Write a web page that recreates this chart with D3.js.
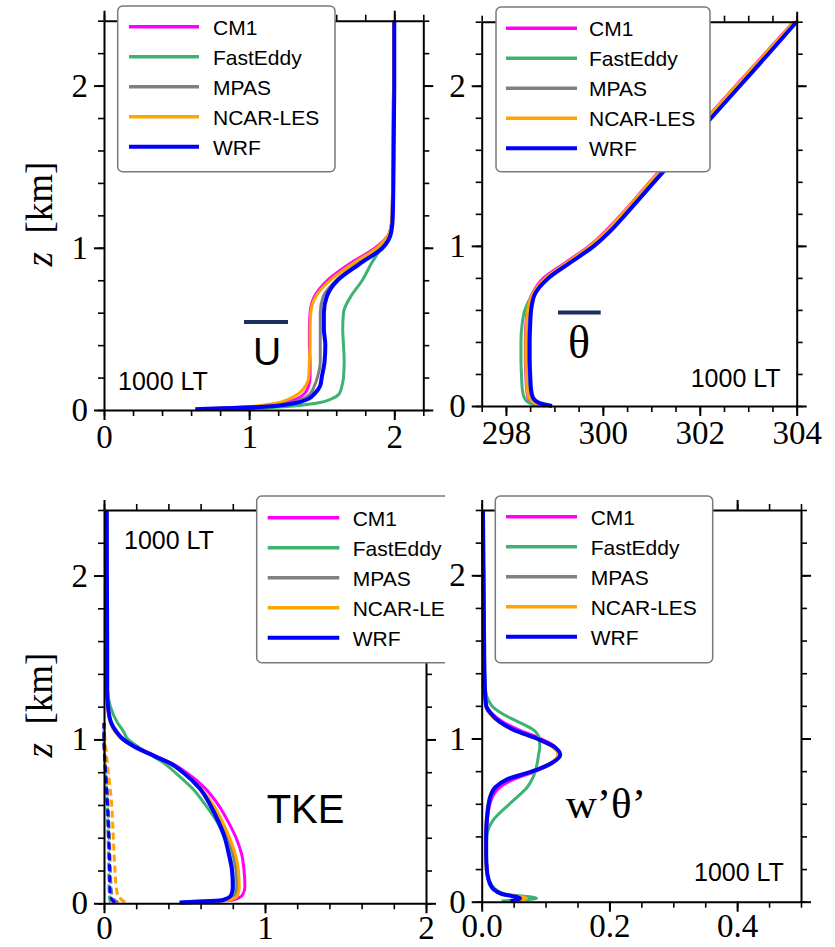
<!DOCTYPE html>
<html>
<head>
<meta charset="utf-8">
<script src="https://cdn.jsdelivr.net/npm/d3@7"></script>
<style>
  body { margin: 0; background: #fff; }
  svg { display: block; }
</style>
</head>
<body>
<svg id="chart" width="835" height="947"></svg>
<script>
const models = ["CM1", "FastEddy", "MPAS", "NCAR-LES", "WRF"];
const colors = ["#ff00ff", "#3cb371", "#808080", "#ffa500", "#0000ff"];

// mean wind speed U (top left)
const zU = [0.005, 0.02, 0.04, 0.07, 0.1, 0.15, 0.2, 0.3, 0.4, 0.5, 0.6, 0.7, 0.8, 0.9, 1.0, 1.1, 1.2, 1.5, 2.0, 2.4];
const uCM1 = [0.63, 1.02, 1.22, 1.33, 1.38, 1.41, 1.42, 1.42, 1.415, 1.415, 1.42, 1.45, 1.54, 1.69, 1.87, 1.97, 1.985, 1.99, 1.995, 1.995];
const uFastEddy = [0.95, 1.24, 1.45, 1.57, 1.62, 1.64, 1.65, 1.655, 1.65, 1.645, 1.65, 1.70, 1.78, 1.84, 1.91, 1.97, 1.985, 1.99, 1.995, 1.995];
const uMPAS = [0.63, 1.05, 1.26, 1.37, 1.42, 1.45, 1.47, 1.49, 1.49, 1.49, 1.49, 1.51, 1.60, 1.74, 1.89, 1.975, 1.985, 1.99, 1.995, 1.995];
const uNCAR = [0.63, 0.98, 1.17, 1.28, 1.34, 1.39, 1.41, 1.415, 1.42, 1.42, 1.425, 1.46, 1.56, 1.71, 1.88, 1.97, 1.985, 1.99, 1.995, 1.995];
const uWRF = [0.63, 1.10, 1.30, 1.41, 1.45, 1.49, 1.50, 1.52, 1.525, 1.515, 1.515, 1.535, 1.61, 1.76, 1.92, 1.98, 1.99, 1.995, 2.0, 2.0];

// potential temperature (top right)
const zT = [0.0, 0.02, 0.05, 0.1, 0.2, 0.3, 0.4, 0.5, 0.6, 0.7, 0.8, 0.9, 1.0, 1.1, 1.2, 1.4, 1.6, 1.8, 2.0, 2.2, 2.4];
const tCM1 = [298.8, 298.56, 298.46, 298.43, 298.41, 298.4, 298.4, 298.41, 298.44, 298.54, 298.78, 299.25, 299.72, 300.08, 300.39, 300.97, 301.56, 302.15, 302.74, 303.34, 303.94];
const tFastEddy = [298.7, 298.48, 298.38, 298.34, 298.32, 298.31, 298.31, 298.33, 298.39, 298.56, 298.86, 299.3, 299.76, 300.12, 300.42, 301.0, 301.59, 302.18, 302.77, 303.37, 303.96];
const tMPAS = [298.85, 298.6, 298.5, 298.47, 298.45, 298.44, 298.44, 298.45, 298.48, 298.57, 298.84, 299.3, 299.77, 300.13, 300.44, 301.02, 301.61, 302.2, 302.79, 303.38, 303.97];
const tNCAR = [298.8, 298.58, 298.48, 298.44, 298.42, 298.41, 298.41, 298.42, 298.45, 298.55, 298.82, 299.28, 299.74, 300.1, 300.4, 300.98, 301.57, 302.16, 302.75, 303.35, 303.95];
const tWRF = [298.95, 298.68, 298.56, 298.52, 298.5, 298.49, 298.49, 298.5, 298.52, 298.6, 298.88, 299.35, 299.82, 300.18, 300.48, 301.06, 301.65, 302.24, 302.83, 303.42, 304.0];

// resolved TKE (bottom left, solid)
const zK = [0.005, 0.02, 0.05, 0.1, 0.2, 0.3, 0.4, 0.5, 0.6, 0.7, 0.8, 0.85, 0.9, 0.95, 1.0, 1.05, 1.1, 1.2, 1.3, 1.5, 2.0, 2.4];
const kCM1 = [0.47, 0.80, 0.86, 0.875, 0.87, 0.855, 0.82, 0.77, 0.71, 0.63, 0.51, 0.43, 0.32, 0.21, 0.12, 0.075, 0.045, 0.025, 0.02, 0.02, 0.018, 0.017];
const kFastEddy = [0.6, 0.76, 0.80, 0.805, 0.80, 0.78, 0.75, 0.70, 0.63, 0.55, 0.44, 0.38, 0.30, 0.22, 0.15, 0.12, 0.085, 0.04, 0.022, 0.02, 0.018, 0.017];
const kMPAS = [0.47, 0.77, 0.815, 0.825, 0.82, 0.80, 0.77, 0.725, 0.67, 0.60, 0.49, 0.415, 0.315, 0.205, 0.115, 0.07, 0.045, 0.025, 0.02, 0.02, 0.018, 0.017];
const kNCAR = [0.47, 0.78, 0.83, 0.84, 0.835, 0.815, 0.78, 0.735, 0.68, 0.60, 0.49, 0.41, 0.31, 0.20, 0.11, 0.065, 0.04, 0.022, 0.02, 0.02, 0.018, 0.017];
const kWRF = [0.47, 0.74, 0.79, 0.80, 0.795, 0.775, 0.75, 0.71, 0.66, 0.595, 0.49, 0.42, 0.31, 0.20, 0.12, 0.075, 0.045, 0.025, 0.02, 0.02, 0.018, 0.017];

// subgrid TKE (bottom left, dashed)
const zS = [0.005, 0.03, 0.075, 0.2, 0.4, 0.6, 0.8, 0.9, 1.0, 1.1];
const sCM1 = [0.06, 0.04, 0.035, 0.033, 0.028, 0.02, 0.009, 0.003, 0.0, 0.0];
const sFastEddy = [0.04, 0.035, 0.032, 0.03, 0.026, 0.02, 0.01, 0.004, 0.0, 0.0];
const sMPAS = [0.09, 0.055, 0.046, 0.04, 0.034, 0.026, 0.013, 0.006, 0.001, 0.0];
const sNCAR = [0.13, 0.10, 0.079, 0.068, 0.058, 0.048, 0.027, 0.016, 0.006, 0.0];
const sWRF = [0.07, 0.045, 0.037, 0.035, 0.03, 0.022, 0.01, 0.004, 0.0, 0.0];

// heat flux w'theta' (bottom right)
const zW = [0.005, 0.02, 0.05, 0.1, 0.2, 0.3, 0.4, 0.5, 0.6, 0.65, 0.7, 0.75, 0.8, 0.85, 0.9, 0.95, 1.0, 1.05, 1.1, 1.15, 1.2, 1.3, 1.5, 2.0, 2.4];
const wCM1 = [0.045, 0.058, 0.03, 0.014, 0.008, 0.007, 0.007, 0.009, 0.013, 0.018, 0.028, 0.05, 0.085, 0.11, 0.12, 0.115, 0.092, 0.06, 0.034, 0.017, 0.008, 0.005, 0.004, 0.003, 0.002];
const wFastEddy = [0.031, 0.086, 0.034, 0.016, 0.008, 0.007, 0.008, 0.018, 0.044, 0.058, 0.071, 0.079, 0.084, 0.087, 0.089, 0.091, 0.09, 0.082, 0.058, 0.033, 0.016, 0.006, 0.004, 0.003, 0.002];
const wMPAS = [0.045, 0.06, 0.03, 0.014, 0.008, 0.007, 0.007, 0.008, 0.011, 0.015, 0.022, 0.041, 0.08, 0.108, 0.121, 0.112, 0.085, 0.052, 0.028, 0.014, 0.007, 0.005, 0.004, 0.003, 0.002];
const wNCAR = [0.05, 0.07, 0.032, 0.014, 0.007, 0.006, 0.006, 0.007, 0.01, 0.013, 0.02, 0.038, 0.078, 0.108, 0.12, 0.11, 0.083, 0.05, 0.027, 0.013, 0.006, 0.004, 0.003, 0.002, 0.002];
const wWRF = [0.045, 0.06, 0.03, 0.014, 0.008, 0.007, 0.007, 0.008, 0.011, 0.014, 0.021, 0.04, 0.08, 0.11, 0.123, 0.113, 0.086, 0.052, 0.029, 0.015, 0.007, 0.005, 0.004, 0.003, 0.002];

const zMajor = [0, 1, 2];
const serif = "'Liberation Serif', 'Times New Roman', serif";
const sans = "'Liberation Sans', Arial, sans-serif";

const svg = d3.select("#chart");

svg.append("defs").append("clipPath").attr("id", "clipBL")
  .append("rect").attr("x", 0).attr("y", 460).attr("width", 445).attr("height", 487);

function drawPanel(p) {
  const [left, right, top, bottom] = p.box;
  const x = d3.scaleLinear().domain(p.xDomain).range([left, right]);
  const y = d3.scaleLinear().domain([0, 2.4]).range([bottom, top]);
  const g = svg.append("g");

  const line = d3.line()
    .x(d => x(d[0]))
    .y(d => y(d[1]))
    .curve(d3.curveMonotoneY);

  // dashed subgrid profiles first
  (p.dashed || []).forEach((vals, i) => {
    g.append("path")
      .datum(vals.map((v, j) => [v, p.zDashed[j]]))
      .attr("d", line)
      .attr("fill", "none")
      .attr("stroke", colors[i])
      .attr("stroke-width", 3)
      .attr("stroke-dasharray", "7,4");
  });

  p.series.forEach((vals, i) => {
    g.append("path")
      .datum(vals.map((v, j) => [v, p.z[j]]))
      .attr("d", line)
      .attr("fill", "none")
      .attr("stroke", colors[i])
      .attr("stroke-width", models[i] === "WRF" ? 4 : 3)
      .attr("stroke-linejoin", "round");
  });

  // axes: minor + major ticks on all four sides, all pointing outward
  const xMinor = d3.range(p.xDomain[0], p.xDomain[1] + 1e-9, p.xMinorStep);
  const zMinor = d3.range(0, 2.4 + 1e-9, 0.2);

  const axes = [
    [d3.axisBottom(x), `translate(0,${bottom})`, xMinor, p.xMajor, true],
    [d3.axisTop(x), `translate(0,${top})`, xMinor, p.xMajor, false],
    [d3.axisLeft(y), `translate(${left},0)`, zMinor, zMajor, true],
    [d3.axisRight(y), `translate(${right},0)`, zMinor, zMajor, false]
  ];
  axes.forEach(([ax, tr, minor, major, labels], k) => {
    g.append("g").attr("transform", tr)
      .call(ax.tickValues(minor).tickSize(6).tickSizeOuter(0).tickFormat(""))
      .call(s => s.select(".domain").remove())
      .selectAll("line").attr("stroke-width", 1.6);
    const isX = k < 2;
    const fmt = isX ? p.fmt : d3.format("d");
    const a = g.append("g").attr("transform", tr)
      .call(ax.tickValues(major).tickSize(10).tickSizeOuter(0)
        .tickPadding(isX ? p.xPad : 6)
        .tickFormat(labels ? fmt : ""))
      .attr("font-family", serif)
      .attr("font-size", 33);
    a.select(".domain").attr("stroke-width", 2);
    a.selectAll("line").attr("stroke-width", 2);
    a.selectAll("text")
      .style("font-family", serif)
      .style("font-size", "33px")
      .attr("fill", "#000");
  });

  // legend
  const L = p.legend;
  const lg = svg.append("g");
  if (L.clip) lg.attr("clip-path", "url(#clipBL)");
  lg.append("rect")
    .attr("x", L.x).attr("y", L.y).attr("width", L.w).attr("height", L.h)
    .attr("rx", 5).attr("fill", "#fff")
    .attr("stroke", "#7a7a7a").attr("stroke-width", 1.5);
  models.forEach((m, i) => {
    const ry = L.row0 + i * 30;
    lg.append("line")
      .attr("x1", L.l0).attr("x2", L.l1).attr("y1", ry).attr("y2", ry)
      .attr("stroke", colors[i]).attr("stroke-width", m === "WRF" ? 4 : 3.5);
    lg.append("text")
      .attr("x", L.tx).attr("y", ry + 8)
      .style("font-family", sans).style("font-size", "21px")
      .text(m);
  });
  return g;
}

function zLabel(cx, cy) {
  const t = svg.append("text")
    .attr("transform", `translate(${cx},${cy}) rotate(-90)`)
    .attr("text-anchor", "middle")
    .style("font-family", serif)
    .style("font-size", "37px");
  t.append("tspan").style("font-style", "italic").text("z");
  t.append("tspan").text("\u00a0\u00a0[km]");
}

function note(x, y, txt, size, family) {
  svg.append("text").attr("x", x).attr("y", y)
    .style("font-family", family).style("font-size", size + "px")
    .text(txt);
}

// top left: U
drawPanel({
  box: [104, 423.3, 20.7, 410], xDomain: [0, 2.2], xMajor: [0, 1, 2], xMinorStep: 0.2, xPad: 5,
  fmt: d3.format("d"), z: zU, series: [uCM1, uFastEddy, uMPAS, uNCAR, uWRF],
  legend: { x: 117.7, y: 6, w: 217.3, h: 165.7, l0: 129, l1: 199, tx: 213, row0: 26.7 }
});
zLabel(52, 214);
note(118, 390, "1000 LT", 25, sans);
svg.append("rect").attr("x", 244).attr("y", 320).attr("width", 44).attr("height", 4).attr("fill", "#1b2f5e");
svg.append("text").attr("x", 267).attr("y", 365).attr("text-anchor", "middle")
  .style("font-family", sans).style("font-size", "39px").text("U");

// top right: theta
drawPanel({
  box: [481.7, 796.7, 21.7, 406], xDomain: [297.5, 304], xMajor: [298, 300, 302, 304], xMinorStep: 0.5, xPad: 5,
  fmt: d3.format("d"), z: zT, series: [tCM1, tFastEddy, tMPAS, tNCAR, tWRF],
  legend: { x: 496, y: 7, w: 214, h: 164.7, l0: 506, l1: 577, tx: 589, row0: 28.3 }
});
note(690.7, 386.7, "1000 LT", 25, sans);
svg.append("rect").attr("x", 558).attr("y", 310.5).attr("width", 42.7).attr("height", 4).attr("fill", "#1b2f5e");
svg.append("text").attr("x", 579).attr("y", 358).attr("text-anchor", "middle")
  .style("font-family", serif).style("font-size", "46px").text("\u03b8");

// bottom left: TKE
drawPanel({
  box: [104, 426, 510, 903.3], xDomain: [0, 2], xMajor: [0, 1, 2], xMinorStep: 0.2, xPad: 2,
  fmt: d3.format("d"), z: zK, series: [kCM1, kFastEddy, kMPAS, kNCAR, kWRF],
  zDashed: zS, dashed: [sCM1, sFastEddy, sMPAS, sNCAR, sWRF],
  legend: { x: 256.7, y: 496, w: 240, h: 166.7, l0: 267.7, l1: 339.3, tx: 352.7, row0: 517.7, clip: true }
});
zLabel(52, 705);
note(124, 549, "1000 LT", 25, sans);
note(266.7, 823, "TKE", 40, sans);

// bottom right: w'theta'
drawPanel({
  box: [481.7, 801, 510, 901.7], xDomain: [0, 0.5], xMajor: [0, 0.2, 0.4], xMinorStep: 0.05, xPad: 2,
  fmt: d3.format(".1f"), z: zW, series: [wCM1, wFastEddy, wMPAS, wNCAR, wWRF],
  legend: { x: 495.3, y: 496, w: 217.4, h: 166.7, l0: 506, l1: 577, tx: 590.7, row0: 516.7 }
});
note(694, 880.7, "1000 LT", 25, sans);
note(565.7, 818.3, "w\u2019\u03b8\u2019", 43, serif);
</script>
</body>
</html>
